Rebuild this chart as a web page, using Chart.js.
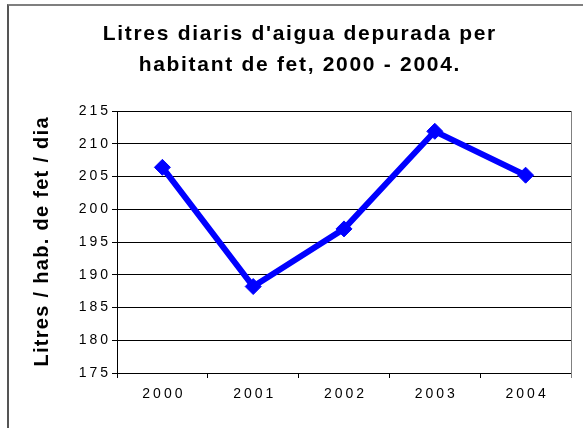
<!DOCTYPE html>
<html>
<head>
<meta charset="utf-8">
<script src="https://cdn.jsdelivr.net/npm/chart.js@4/dist/chart.umd.min.js"></script>
<style>
html,body{margin:0;padding:0;background:#fff;}
#wrap{position:relative;width:586px;height:428px;overflow:hidden;}
#frame{position:absolute;left:7px;top:4px;width:576px;height:440px;border-top:2px solid #7f7f7f;border-left:2px solid #555;box-sizing:border-box;pointer-events:none;}
canvas{position:absolute;left:0;top:0;}
</style>
</head>
<body>
<div id="wrap">
<canvas id="c" width="586" height="428"></canvas>
<div id="frame"></div>
</div>
<script>
const titleLines = ["Litres diaris d'aigua depurada per", "habitant de fet, 2000 - 2004."];
const yAxisTitle = "Litres / hab. de fet / dia";
const years = ["2000", "2001", "2002", "2003", "2004"];
const litres = [206.4, 188.2, 197.0, 211.9, 205.2];
const yMin = 175, yMax = 215, yStep = 5;

const FONT = "'Liberation Sans', Arial, sans-serif";
// letter spacing by font size (px) to mimic the wide GDI text of the original
const SPACING = { 21: 1.7, 20: 1.3, 14: 3 };

const canvas = document.getElementById('c');
const ctx = canvas.getContext('2d');
const origFill = ctx.fillText.bind(ctx);
ctx.fillText = function (text, x, y, maxWidth) {
  const m = /(\d+(?:\.\d+)?)px/.exec(this.font);
  const size = m ? Math.round(+m[1]) : 12;
  const sp = SPACING[size] || 0;
  this.letterSpacing = sp + 'px';
  let dx = 0;
  if (this.textAlign === 'center') dx = sp / 2;
  else if (this.textAlign === 'right' || this.textAlign === 'end') dx = sp;
  if (maxWidth === undefined) origFill(text, x + dx, y);
  else origFill(text, x + dx, y, maxWidth + sp * String(text).length);
  this.letterSpacing = '0px';
};

const plotBorder = {
  id: 'plotBorder',
  beforeDatasetsDraw(chart) {
    const a = chart.chartArea, c = chart.ctx;
    c.save();
    c.strokeStyle = '#808080';
    c.lineWidth = 1;
    c.beginPath();
    c.moveTo(Math.round(a.right) + 0.5, a.top);
    c.lineTo(Math.round(a.right) + 0.5, a.bottom + 5);
    c.stroke();
    c.restore();
  }
};

new Chart(canvas, {
  type: 'line',
  data: {
    labels: years,
    datasets: [{
      data: litres,
      borderColor: '#0000FF',
      backgroundColor: '#0000FF',
      borderWidth: 6,
      pointStyle: 'rectRot',
      pointRadius: 8,
      pointHoverRadius: 8,
      pointBorderWidth: 1,
      tension: 0,
      fill: false
    }]
  },
  options: {
    responsive: false,
    animation: false,
    events: [],
    layout: { padding: { left: 27, right: 15, top: 0, bottom: 0 } },
    plugins: {
      legend: { display: false },
      tooltip: { enabled: false },
      title: {
        display: true,
        text: titleLines,
        color: '#000',
        font: { family: FONT, size: 21, weight: 'bold', lineHeight: 31 / 21 },
        padding: { top: 19, bottom: 30 }
      }
    },
    scales: {
      x: {
        offset: true,
        grid: { display: true, offset: true, drawOnChartArea: false, drawTicks: true, tickLength: 5, color: '#000' },
        border: { display: true, color: '#000', width: 1 },
        ticks: { color: '#000', font: { family: FONT, size: 14 }, padding: 8, maxRotation: 0, autoSkip: false },
        afterFit(s) { s.height = 55; }
      },
      y: {
        min: yMin, max: yMax,
        grid: { color: '#000', lineWidth: 1, drawTicks: true, tickLength: 5 },
        border: { display: true, color: '#000', width: 1 },
        ticks: { stepSize: yStep, color: '#000', font: { family: FONT, size: 14 }, padding: 4 },
        title: {
          display: true,
          text: yAxisTitle,
          color: '#000',
          font: { family: FONT, size: 20, weight: 'bold' },
          padding: { top: 3, bottom: 0 }
        },
        afterFit(s) { s.width = 90; }
      }
    }
  },
  plugins: [plotBorder]
});
</script>
</body>
</html>
